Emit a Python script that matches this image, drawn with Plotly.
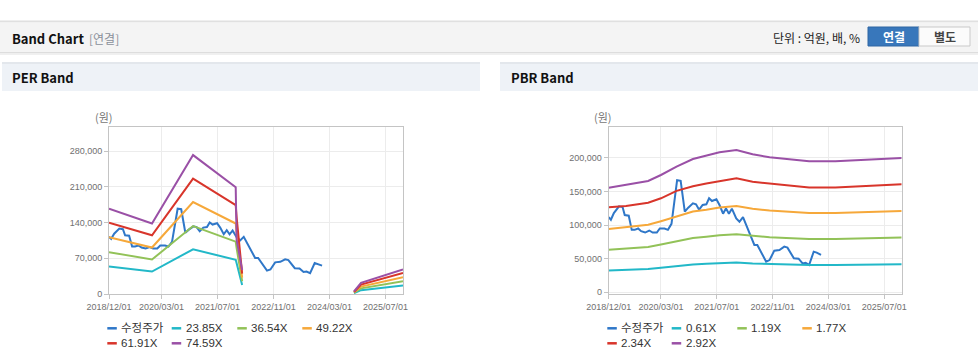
import plotly.graph_objects as go

W, H = 978, 361

# ---------------- data ----------------
price_dates = ["2018-12-01", "2018-12-20", "2019-01-15", "2019-03-01", "2019-04-01", "2019-04-20",
               "2019-05-25", "2019-06-20", "2019-07-15", "2019-08-15", "2019-09-10", "2019-10-15",
               "2019-11-20", "2019-12-20", "2020-01-25", "2020-02-20", "2020-04-01", "2020-05-01",
               "2020-06-01", "2020-06-15", "2020-07-20", "2020-08-20", "2020-09-25", "2020-10-25",
               "2020-12-05", "2021-01-01", "2021-01-28", "2021-02-28", "2021-04-01", "2021-04-25",
               "2021-05-20", "2021-06-28", "2021-07-25", "2021-08-25", "2021-09-20", "2021-10-15",
               "2021-11-10", "2021-12-18", "2022-01-15", "2022-02-15", "2022-03-15", "2022-04-28",
               "2022-05-25", "2022-06-20", "2022-07-20", "2022-09-05", "2022-10-05", "2022-11-15",
               "2022-12-30", "2023-02-10", "2023-03-10", "2023-05-05", "2023-06-15", "2023-07-20",
               "2023-08-15", "2023-09-15", "2023-10-25", "2023-11-20", "2023-12-28"]
price_values = [112000, 108000, 118000, 128000, 127000, 115000,
                114000, 93000, 93000, 95000, 91000, 89000,
                92000, 89000, 89000, 95000, 95000, 93000,
                102000, 120000, 167000, 166000, 120000, 126000,
                132500, 131000, 123000, 130000, 131000, 140000,
                136000, 138500, 130000, 117000, 125000, 117000,
                124500, 110000, 105000, 112000, 100000, 83000,
                70500, 70500, 60500, 45700, 48000, 62000,
                63000, 68000, 66500, 50600, 50000, 43000,
                44000, 40700, 60500, 59000, 55600]

per_band_dates = ["2018-12-01", "2019-12-10", "2020-12-01", "2021-12-07", "2021-12-15", "2022-02-01",
                  "2023-06-01", "2024-10-01", "2024-12-01", "2025-12-01"]
per_23_85x = [54000, 44000, 87500, 67000, 60000, 17500, None, 1600, 7500, 16500]
per_36_54x = [82000, 67500, 133000, 102500, 90000, 25000, None, 2500, 11000, 25000]
per_49_22x = [111000, 91000, 180000, 138000, 120000, 32000, None, 3300, 14500, 33000]
per_61_91x = [139500, 115000, 226000, 174000, 150000, 40000, None, 4000, 18500, 41000]
per_74_59x = [167000, 138000, 272000, 209000, 106000, 47000, None, 5000, 22000, 48000]

pbr_band_dates = ["2018-12-01", "2019-05-01", "2019-11-10", "2020-03-01", "2020-07-15", "2020-12-05",
                  "2021-04-01", "2021-07-25", "2021-12-20", "2022-05-10", "2022-10-05", "2023-02-28",
                  "2023-09-15", "2024-05-01", "2025-02-20", "2025-12-01"]
pbr_0_61x = [32500, 33400, 34600, 36500, 39100, 41500, 42400, 43500, 44300, 42900, 42000, 41400,
             40700, 40700, 41200, 41800]
pbr_1_19x = [63500, 65100, 67600, 71200, 76200, 80900, 82700, 84900, 86400, 83700, 81900, 80700,
             79500, 79500, 80300, 81500]
pbr_1_77x = [94400, 96800, 100500, 105900, 113300, 120300, 123000, 126300, 128500, 124500, 121800, 120000,
             118200, 118200, 119400, 121200]
pbr_2_34x = [126600, 128500, 133500, 140000, 151000, 158000, 162000, 165800, 169700, 164500, 162000, 159000,
             156000, 156000, 158000, 160800]
pbr_2_92x = [155800, 159800, 165800, 174700, 187000, 198500, 203000, 208400, 212000, 205500, 201000, 198000,
             195000, 195000, 197000, 200000]

per_labels = ["수정주가", "23.85X", "36.54X", "49.22X", "61.91X", "74.59X"]
pbr_labels = ["수정주가", "0.61X", "1.19X", "1.77X", "2.34X", "2.92X"]

x_tick_vals = ["2018-12-01", "2020-03-01", "2021-07-01", "2022-11-01", "2024-03-01", "2025-07-01"]
x_tick_text = ["2018/12/01", "2020/03/01", "2021/07/01", "2022/11/01", "2024/03/01", "2025/07/01"]
per_y_ticks = [0, 70000, 140000, 210000, 280000]
pbr_y_ticks = [0, 50000, 100000, 150000, 200000]

colors = ["#2f77c8", "#22b8c8", "#92c258", "#f6a83a", "#d8352b", "#9a50a6"]

# ---------------- figure ----------------
def px(x):
    return x / W

def py(y):
    return 1 - y / H

fig = go.Figure()

per_bands = [per_23_85x, per_36_54x, per_49_22x, per_61_91x, per_74_59x]
pbr_bands = [pbr_0_61x, pbr_1_19x, pbr_1_77x, pbr_2_34x, pbr_2_92x]

fig.add_trace(go.Scatter(x=price_dates, y=price_values, name=per_labels[0], mode="lines",
                         line=dict(color=colors[0], width=2), xaxis="x", yaxis="y", showlegend=False))
for i, vals in enumerate(per_bands):
    fig.add_trace(go.Scatter(x=per_band_dates, y=vals, name=per_labels[i + 1], mode="lines",
                             connectgaps=False, line=dict(color=colors[i + 1], width=2),
                             xaxis="x", yaxis="y", showlegend=False))

fig.add_trace(go.Scatter(x=price_dates, y=price_values, name=pbr_labels[0], mode="lines",
                         line=dict(color=colors[0], width=2), xaxis="x2", yaxis="y2", showlegend=False))
for i, vals in enumerate(pbr_bands):
    fig.add_trace(go.Scatter(x=pbr_band_dates, y=vals, name=pbr_labels[i + 1], mode="lines",
                             line=dict(color=colors[i + 1], width=2),
                             xaxis="x2", yaxis="y2", showlegend=False))

tick_font = dict(family="Liberation Sans, Arial, sans-serif", size=9, color="#707070")
axis_common = dict(showgrid=True, gridcolor="#ececec", gridwidth=1, showline=True, linecolor="#c4c4c4",
                   linewidth=1, mirror=True, ticks="outside", ticklen=4, tickcolor="#c4c4c4",
                   tickfont=tick_font, zeroline=False, fixedrange=True, automargin=False)

fig.update_layout(
    width=W, height=H, autosize=False,
    margin=dict(l=0, r=0, t=0, b=0, pad=0, autoexpand=False),
    paper_bgcolor="white", plot_bgcolor="white",
    showlegend=False,
    xaxis=dict(domain=[px(109), px(403)], type="date", range=["2018-12-01", "2025-12-01"],
               tickvals=x_tick_vals, ticktext=x_tick_text, anchor="y", **axis_common),
    yaxis=dict(domain=[py(294), py(127)], range=[0, 327000], tickvals=per_y_ticks,
               tickformat=",d", anchor="x", **axis_common),
    xaxis2=dict(domain=[px(608.7), px(901.7)], type="date", range=["2018-12-01", "2025-12-01"],
                tickvals=x_tick_vals, ticktext=x_tick_text, anchor="y2", **axis_common),
    yaxis2=dict(domain=[py(293.7), py(126.7)], range=[-2100, 246600], tickvals=pbr_y_ticks,
                tickformat=",d", anchor="x2", **axis_common),
)

shapes = []
annotations = []

def rect(x0, y0, x1, y1, fill, line_color=None, lw=0):
    shapes.append(dict(type="rect", xref="paper", yref="paper", x0=px(x0), x1=px(x1), y0=py(y1), y1=py(y0),
                       fillcolor=fill, line=dict(color=line_color or fill, width=lw), layer="below"))

def text(x, y, s, size=12, color="#222", xanchor="left", family="Noto Sans CJK KR, sans-serif"):
    annotations.append(dict(xref="paper", yref="paper", x=px(x), y=py(y), text=s, showarrow=False,
                            xanchor=xanchor, yanchor="middle", borderpad=0,
                            font=dict(size=size, color=color, family=family)))

# top header bar
rect(0, 20.5, W, 22.5, "#e0e0e0")
rect(0, 22.5, W, 52, "#f4f4f4")
rect(0, 52, W, 53.5, "#dddddd")
rect(0, 53.5, W, 55, "#f0f0f0")
text(11, 38, "<b>Band Chart</b>", size=13, color="#111")
text(88, 38, "[연결]", size=12, color="#8a909a")
text(861, 37.5, "단위 : 억원, 배, %", size=12, color="#222", xanchor="right")
rect(868, 27, 919, 46, "#3877bb", "#2f66a3", 1)
rect(919, 27, 970, 46, "#fbfbfb", "#c9c9c9", 1)
text(893.5, 36.5, "<b>연결</b>", size=12, color="white", xanchor="center")
text(944.5, 36.5, "<b>별도</b>", size=12, color="#444", xanchor="center")

# panel headers
rect(2, 62, 480, 64, "#e3e7ec")
rect(2, 64, 480, 91, "#eef2f7")
rect(500, 62, W, 64, "#e3e7ec")
rect(500, 64, W, 91, "#eef2f7")
text(11, 78, "<b>PER Band</b>", size=13, color="#111")
text(510, 78, "<b>PBR Band</b>", size=13, color="#111")

# axis unit labels
text(104, 116.5, "(원)", size=11, color="#777", xanchor="center")
text(603, 116.5, "(원)", size=11, color="#777", xanchor="center")

# legends (drawn per chart)
leg_font = "Liberation Sans, Noto Sans CJK KR, sans-serif"
def legend(x0, labels):
    offsets = [0, 64.4, 130, 195]
    for i, lab in enumerate(labels):
        row, col = divmod(i, 4)
        lx = x0 + offsets[col]
        ly = 328.3 + row * 15
        shapes.append(dict(type="line", xref="paper", yref="paper", x0=px(lx), x1=px(lx + 9.5),
                           y0=py(ly), y1=py(ly), line=dict(color=colors[i], width=2.5)))
        text(lx + 13, ly, lab, size=11.5, color="#333", family=leg_font)

legend(107.3, per_labels)
legend(607.3, pbr_labels)

fig.update_layout(shapes=shapes, annotations=annotations)

fig.write_html("out.html", include_plotlyjs=True, full_html=True,
               config={"displayModeBar": False, "staticPlot": True},
               post_script="document.body.style.margin='0';document.body.style.overflow='hidden';")
